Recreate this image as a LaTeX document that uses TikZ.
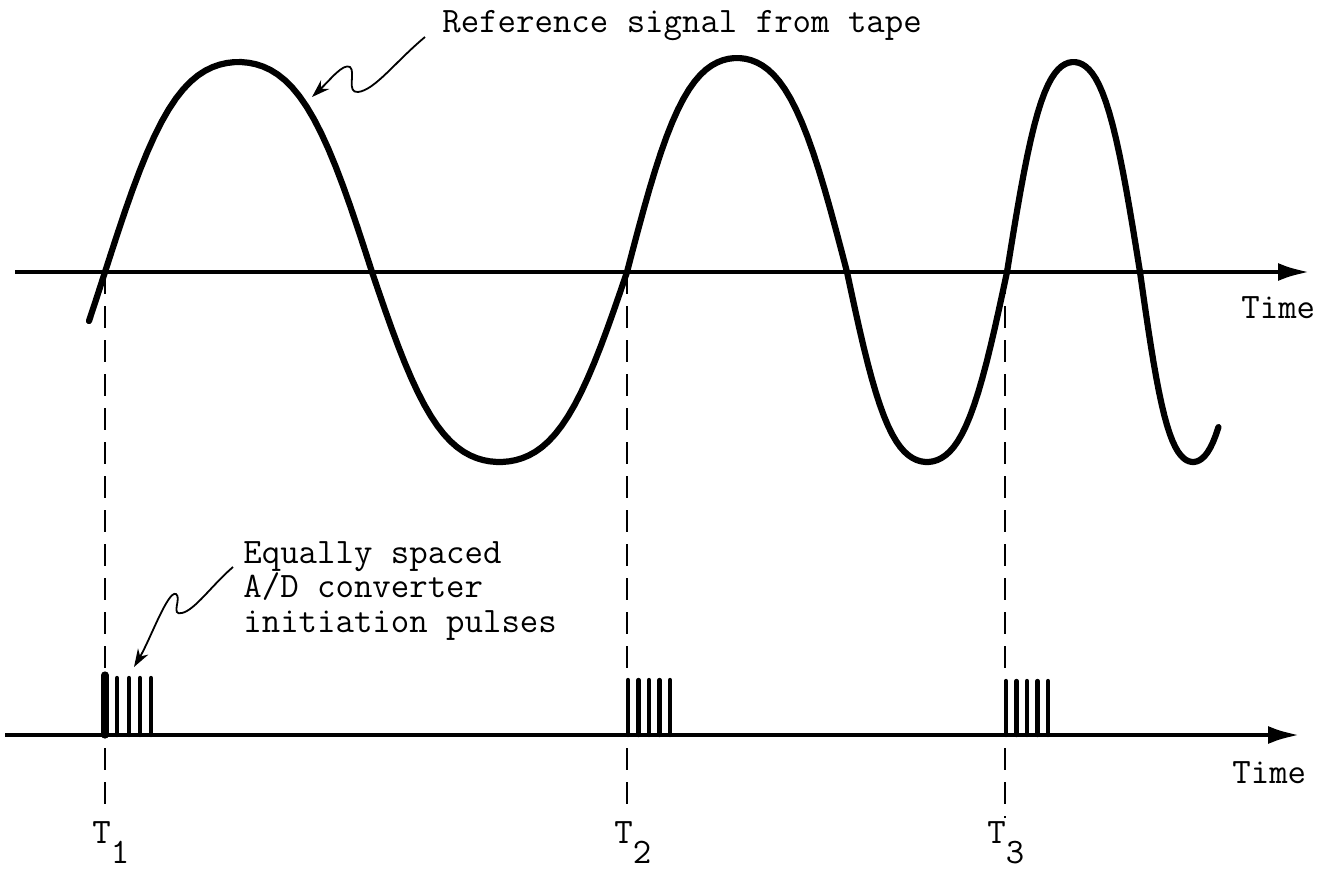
\documentclass[tikz,border=0pt]{standalone}
\usepackage{fontspec}
\usetikzlibrary{arrows.meta}
\newcommand\typefont{\ttfamily\addfontfeatures{FakeBold=2.4}}
\begin{document}
\begin{tikzpicture}[x=0.5pt,y=-0.5pt,
  axisline/.style={line width=2.4pt,-{Latex[length=16pt,width=9pt]}},
  sig/.style={line width=3.1pt,line cap=round,line join=round},
  guide/.style={line width=1pt,dash pattern=on 11pt off 6pt},
  pulse/.style={line width=2.2pt,line cap=round},
  lbl/.style={font=\typefont\fontsize{17.9}{19}\selectfont,inner sep=0pt},
  pointer/.style={line width=0.9pt,-{Stealth[length=9pt,width=6pt]}},
  declare function={hw(\t)=(sin(180*\t)+0.06*sin(540*\t))/0.94;}]
\useasboundingbox (0,0) rectangle (1327,875);
% axes
\coordinate (a1s) at (15,272);
\coordinate (a1e) at (1310,272);
\coordinate (a2s) at (5,735);
\coordinate (a2e) at (1300,735);
\draw[axisline] (a1s) -- (a1e);
\draw[axisline] (a2s) -- (a2e);
\node[lbl,anchor=base west] (time1) at (1241,318) {Time};
\node[lbl,anchor=base west] (time2) at (1232,783) {Time};
% signal
\draw[sig] plot[domain=-0.06:1,samples=40] ({105+267*\x},{272-210*hw(\x)})
  -- plot[domain=0:1,samples=40] ({372+255*\x},{272+190*hw(\x)})
  -- plot[domain=0:1,samples=40] ({627+220*\x},{272-214*hw(\x)})
  -- plot[domain=0:1,samples=40] ({847+160*\x},{272+190*hw(\x)})
  -- plot[domain=0:1,samples=40] ({1007+133*\x},{272-210*hw(\x)})
  -- plot[domain=0:0.74,samples=30] ({1140+106*\x},{272+190*hw(\x)});
% guide lines
\coordinate (g1t) at (105,272); \coordinate (g1b) at (105,808);
\coordinate (g2t) at (627,272); \coordinate (g2b) at (627,815);
\coordinate (g3t) at (1005,272); \coordinate (g3b) at (1005,818);
\draw[guide] (g1t) -- (g1b);
\draw[guide] (g2t) -- (g2b);
\draw[guide] (g3t) -- (g3b);
% pulses
\draw[pulse,line width=3.6pt] (105,735) -- (105,675);
\foreach \x in {117,129,140,151} \draw[pulse] (\x,735) -- (\x,678);
\foreach \x in {628,638.5,649,659.5,670} \draw[pulse] (\x,735) -- (\x,680);
\foreach \x in {1006,1016.5,1027,1037.5,1048} \draw[pulse] (\x,735) -- (\x,681);
% labels
\node[lbl,anchor=base west] (ref) at (442,32) {Reference signal from tape};
\node[lbl,anchor=base west] (eq1) at (243,563) {Equally spaced};
\node[lbl,anchor=base west] (eq2) at (243,597) {A/D converter};
\node[lbl,anchor=base west] (eq3) at (243,632) {initiation pulses};
\node[lbl,anchor=base west] (t1) at (92,843) {T\raisebox{-10pt}{1}};
\node[lbl,anchor=base west] (t2) at (614,843) {T\raisebox{-10pt}{2}};
\node[lbl,anchor=base west] (t3) at (987,843) {T\raisebox{-10pt}{3}};
% pointers
\coordinate (p1s) at (425,37);
\coordinate (p1e) at (312,97);
\draw[pointer] (p1s) .. controls (395,62) and (375,90) .. (358,92)
  .. controls (346,93) and (356,72) .. (350,67)
  .. controls (343,63) and (330,80) .. (p1e);
\coordinate (p2s) at (233,567);
\coordinate (p2e) at (134,667);
\draw[pointer] (p2s) .. controls (212,585) and (195,610) .. (182,613)
  .. controls (170,616) and (182,598) .. (176,594)
  .. controls (168,590) and (150,640) .. (p2e);
\end{tikzpicture}
\end{document}
